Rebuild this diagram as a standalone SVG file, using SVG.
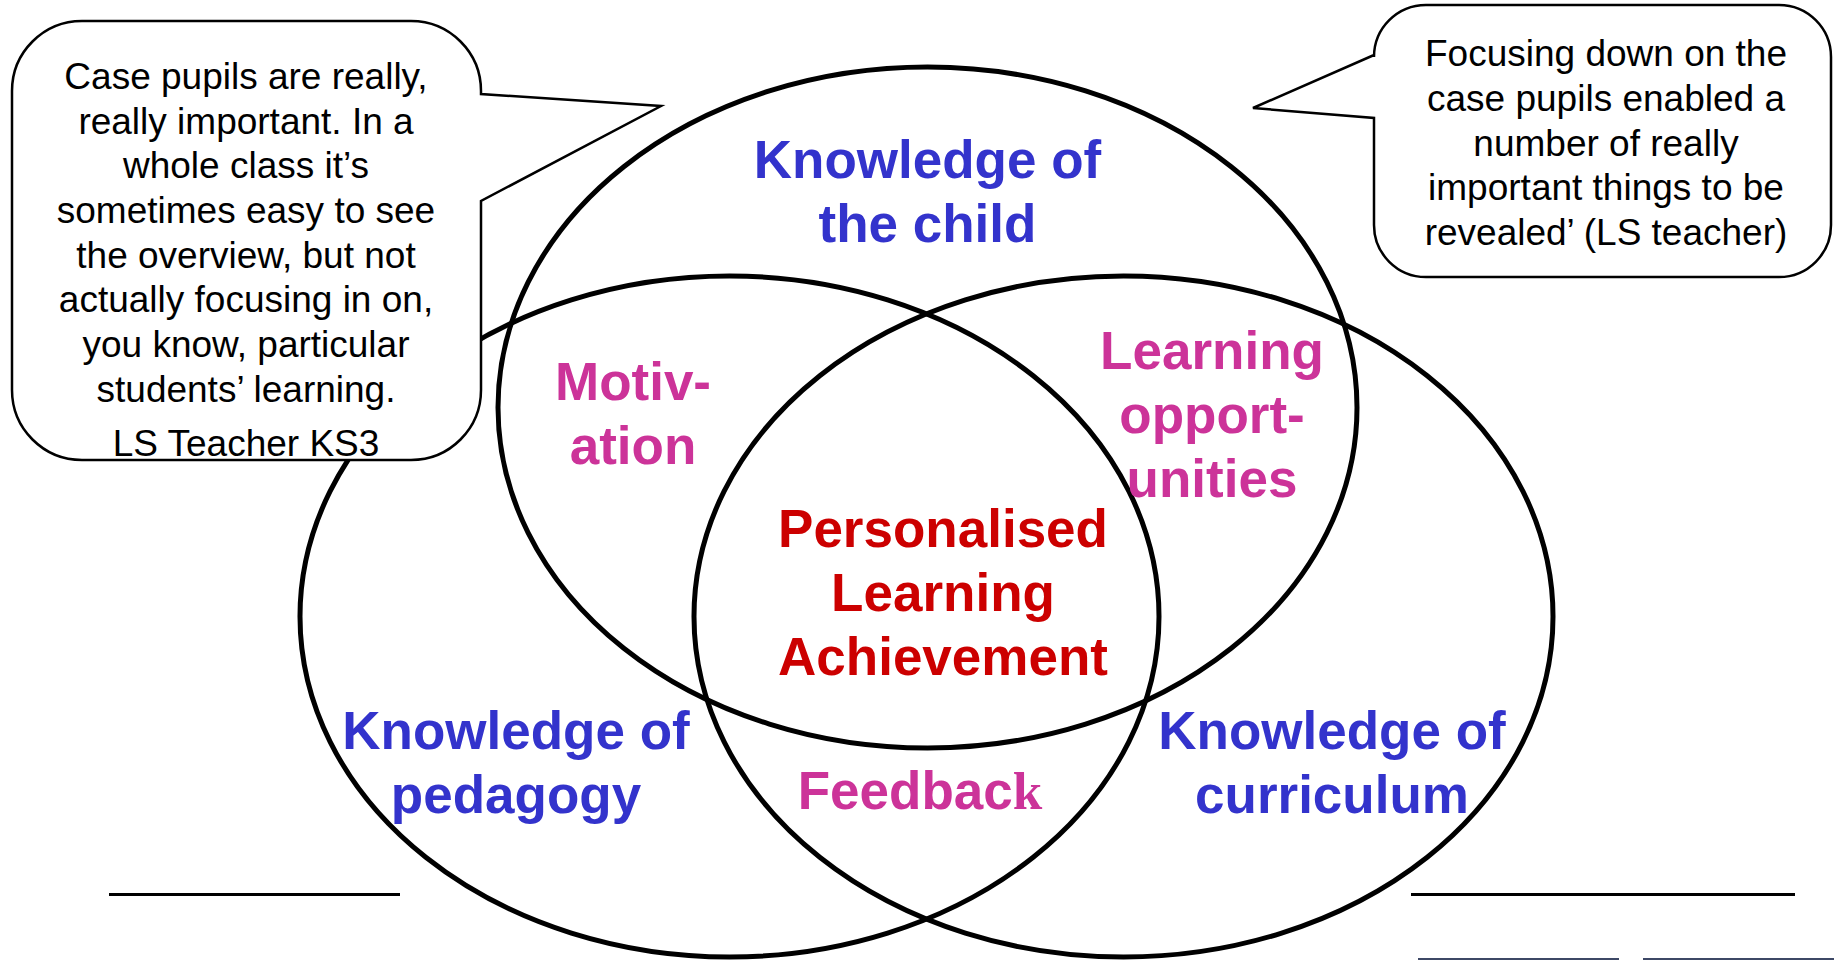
<svg xmlns="http://www.w3.org/2000/svg" width="1834" height="960" viewBox="0 0 1834 960">
<style>
.ell{fill:none;stroke:#000;stroke-width:5}
.bub{fill:#fff;stroke:#000;stroke-width:2.5;stroke-linejoin:miter}
.q{font-family:"Liberation Sans",Arial,sans-serif;font-size:37px;fill:#000;text-anchor:middle}
.lbl{font-family:"Liberation Sans",Arial,sans-serif;font-size:53px;font-weight:bold;text-anchor:middle}
.blue{fill:#3333CC}
.mag{fill:#CC3399}
.red{fill:#CC0000}
.rule{stroke:#000;stroke-width:3}
.rule2{stroke:#3d4866;stroke-width:2}
</style>
<rect width="1834" height="960" fill="#fff"/>
<g id="child">
<ellipse class="ell" cx="927.5" cy="407.5" rx="429.5" ry="340.5"/>
<text class="lbl blue" x="927.5" y="178">Knowledge of</text>
<text class="lbl blue" x="927.5" y="242">the child</text>
</g>
<g id="pedagogy">
<ellipse class="ell" cx="729.5" cy="616.5" rx="429.5" ry="340.5"/>
<text class="lbl blue" x="516" y="749">Knowledge of</text>
<text class="lbl blue" x="516" y="813">pedagogy</text>
</g>
<g id="curriculum">
<ellipse class="ell" cx="1123.5" cy="616.5" rx="429.5" ry="340.5"/>
<text class="lbl blue" x="1332" y="749">Knowledge of</text>
<text class="lbl blue" x="1332" y="813">curriculum</text>
</g>
<g id="motivation">
<text class="lbl mag" x="633" y="400">Motiv-</text>
<text class="lbl mag" x="633" y="464">ation</text>
</g>
<g id="opportunities">
<text class="lbl mag" x="1212" y="369">Learning</text>
<text class="lbl mag" x="1212" y="433">opport-</text>
<text class="lbl mag" x="1212" y="497">unities</text>
</g>
<g id="feedback">
<text class="lbl mag" x="920" y="809">Feedbac<tspan style="font-family:'Liberation Serif','Times New Roman',serif">k</tspan></text>
</g>
<g id="centre">
<text class="lbl red" x="943" y="547">Personalised</text>
<text class="lbl red" x="943" y="611">Learning</text>
<text class="lbl red" x="943" y="675">Achievement</text>
</g>
<g id="rules">
<line class="rule" x1="109" y1="894.5" x2="400" y2="894.5"/>
<line class="rule" x1="1411" y1="894.5" x2="1795" y2="894.5"/>
<line class="rule2" x1="1418" y1="959" x2="1619" y2="959"/>
<line class="rule2" x1="1643" y1="959" x2="1834" y2="959"/>
</g>
<g id="quote-left">
<path class="bub" d="M82,21 H411 A70,70 0 0 1 481,91 L481,94 L661,106 L481,201 V390 A70,70 0 0 1 411,460 H82 A70,70 0 0 1 12,390 V91 A70,70 0 0 1 82,21 Z"/>
<text class="q" x="246" y="89">Case pupils are really,</text>
<text class="q" x="246" y="134">really important. In a</text>
<text class="q" x="246" y="178">whole class it’s</text>
<text class="q" x="246" y="223">sometimes easy to see</text>
<text class="q" x="246" y="268">the overview, but not</text>
<text class="q" x="246" y="312">actually focusing in on,</text>
<text class="q" x="246" y="357">you know, particular</text>
<text class="q" x="246" y="402">students’ learning.</text>
<text class="q" x="246" y="456">LS Teacher KS3</text>
</g>
<g id="quote-right">
<path class="bub" d="M1426,5 H1779 A52,52 0 0 1 1831,57 V225 A52,52 0 0 1 1779,277 H1426 A52,52 0 0 1 1374,225 V118 L1253,108 L1374,55 V57 A52,52 0 0 1 1426,5 Z"/>
<text class="q" x="1606" y="66">Focusing down on the</text>
<text class="q" x="1606" y="111">case pupils enabled a</text>
<text class="q" x="1606" y="156">number of really</text>
<text class="q" x="1606" y="200">important things to be</text>
<text class="q" x="1606" y="245">revealed’ (LS teacher)</text>
</g>
</svg>
